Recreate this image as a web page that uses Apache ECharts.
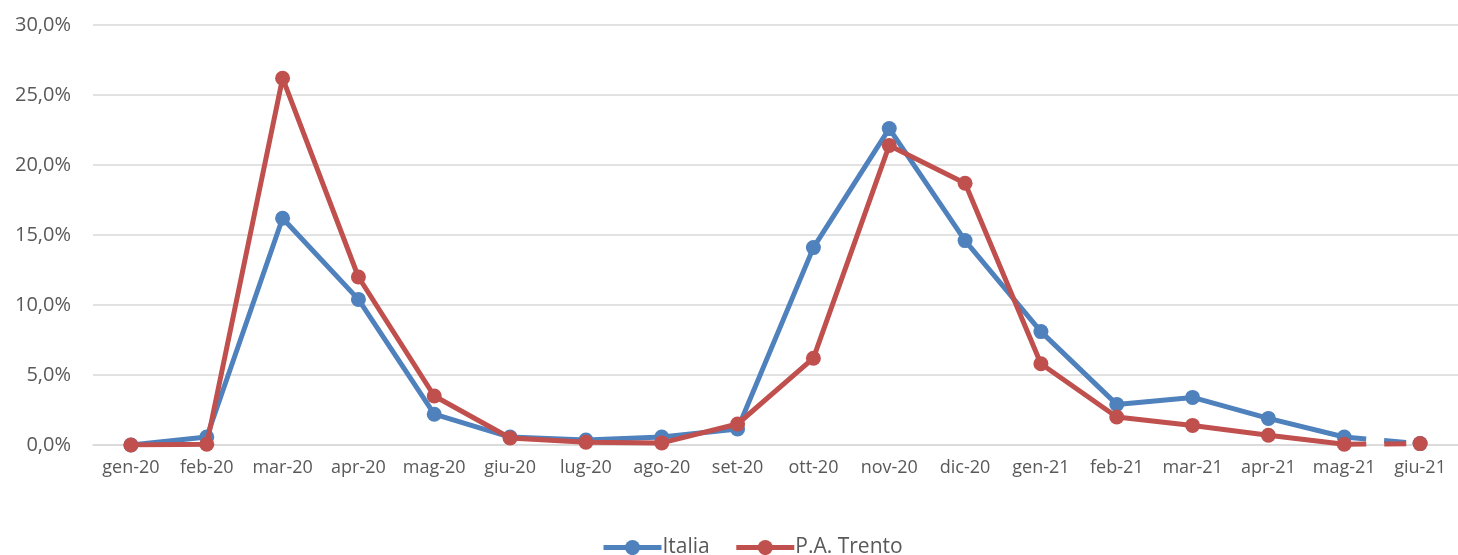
<!DOCTYPE html>
<html><head><meta charset="utf-8">
<script src="https://cdn.jsdelivr.net/npm/echarts@6/dist/echarts.min.js"></script>
<style>html,body{margin:0;padding:0;background:#fff;}#c{width:1458px;height:555px;}</style>
</head><body><div id="c"></div>
<script>
const categories = ['gen-20','feb-20','mar-20','apr-20','mag-20','giu-20','lug-20','ago-20','set-20','ott-20','nov-20','dic-20','gen-21','feb-21','mar-21','apr-21','mag-21','giu-21'];
const italia = [0, 0.57, 16.2, 10.4, 2.2, 0.57, 0.36, 0.57, 1.14, 14.1, 22.6, 14.6, 8.1, 2.9, 3.4, 1.9, 0.57, 0.1];
const trento = [0, 0.05, 26.2, 12.0, 3.5, 0.5, 0.2, 0.15, 1.5, 6.2, 21.4, 18.7, 5.8, 2.0, 1.4, 0.7, 0.05, 0.1];
const yTicks = [0, 5, 10, 15, 20, 25, 30];

const n = categories.length;
function solidPart(arr){ return arr.map((v,i)=> i < n-1 ? v : null); }
function dashPart(arr){ return arr.map((v,i)=> i >= n-2 ? (i===n-2 ? {value:v, symbol:'none'} : v) : null); }
const blue = '#4F81BD', red = '#C0504D';
function mk(name, data, color, dashed, z){
  return {name, type:'line', data, color, z,
    symbol:'circle', symbolSize:15, showAllSymbol:true,
    lineStyle:{width:5, color, type: dashed ? [22,18] : 'solid'},
    itemStyle:{color}, connectNulls:false, animation:false};
}
const chart = echarts.init(document.getElementById('c'));
chart.setOption({
  animation:false,
  textStyle:{fontFamily:'Open Sans, Noto Sans, sans-serif'},
  grid:{left:93, right:0, top:25, bottom:110},
  legend:{data:['Italia','P.A. Trento'], top:532, left:596, itemWidth:58, itemHeight:19, itemGap:24,
    lineStyle:{width:5},
    textStyle:{fontSize:21, color:'#595959', padding:[0,0,0,-4]}},
  xAxis:{type:'category', data:categories, boundaryGap:true,
    axisLine:{lineStyle:{color:'#d9d9d9', width:1.5}}, axisTick:{show:false},
    axisLabel:{fontSize:18, color:'#595959', margin:14, interval:0}},
  yAxis:{type:'value', min:yTicks[0], max:yTicks[yTicks.length-1], interval:5,
    axisLine:{show:false}, axisTick:{show:false},
    splitLine:{lineStyle:{color:'#d9d9d9', width:1.5}},
    axisLabel:{fontSize:20, color:'#595959', margin:22, formatter:v=>v.toFixed(1).replace('.',',')+'%'}},
  series:[
    mk('Italia', solidPart(italia), blue, false, 2),
    mk('P.A. Trento', solidPart(trento), red, false, 3),
    mk('Italia', dashPart(italia), blue, true, 2),
    mk('P.A. Trento', dashPart(trento), red, true, 3)
  ]
});
</script></body></html>
